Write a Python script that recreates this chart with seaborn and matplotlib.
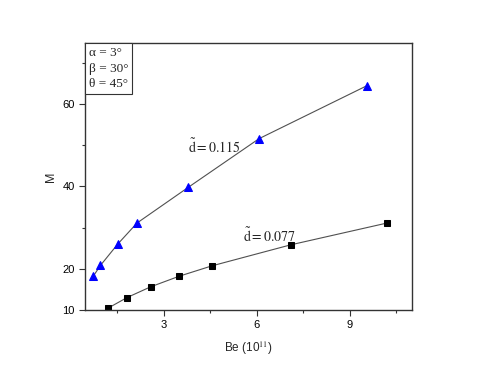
import numpy as np
import pandas as pd
import matplotlib
matplotlib.use('Agg')
import matplotlib.pyplot as plt
from matplotlib.ticker import FixedLocator
from matplotlib.offsetbox import AnchoredText
import seaborn as sns

# Data
be_077 = [1.19, 1.81, 2.57, 3.50, 4.55, 7.09, 10.20]
m_077 = [10.4, 13.0, 15.6, 18.2, 20.7, 25.8, 31.1]
be_115 = [0.72, 0.95, 1.51, 2.13, 3.79, 6.07, 9.56]
m_115 = [18.2, 20.8, 26.0, 31.1, 39.8, 51.6, 64.5]
params = ['α = 3°', 'β = 30°', 'θ = 45°']

sns.set_style('ticks')
plt.rcParams['font.family'] = ['Liberation Sans', 'DejaVu Sans']
plt.rcParams['mathtext.fontset'] = 'stix'

fig = plt.figure(figsize=(4.8, 3.72), dpi=100)
ax = fig.add_axes([0.177, 0.167, 0.681, 0.717])

df1 = pd.DataFrame({'Be': be_077, 'M': m_077})
df2 = pd.DataFrame({'Be': be_115, 'M': m_115})

sns.lineplot(data=df1, x='Be', y='M', ax=ax, sort=False, color='#505050', lw=0.8,
             marker='s', markersize=4.5, markerfacecolor='black', markeredgecolor='black')
sns.lineplot(data=df2, x='Be', y='M', ax=ax, sort=False, color='#505050', lw=0.8,
             marker='^', markersize=6, markerfacecolor='#0000ff', markeredgecolor='#0000ff')

ax.set_xlim(0.45, 11.0)
ax.set_ylim(10, 74.8)
ax.xaxis.set_major_locator(FixedLocator([3, 6, 9]))
ax.xaxis.set_minor_locator(FixedLocator([1.5, 4.5, 7.5, 10.5]))
ax.yaxis.set_major_locator(FixedLocator([10, 20, 40, 60]))
ax.yaxis.set_minor_locator(FixedLocator([30, 50, 70]))
ax.tick_params(which='both', direction='out', labelsize=8, width=0.8, colors='#333333',
               labelcolor='black')
ax.tick_params(which='major', length=4)
ax.tick_params(which='minor', length=2.5)
for s in ax.spines.values():
    s.set_visible(True)
    s.set_linewidth(1.0)
    s.set_color('#333333')

ax.set_xlabel('Be (10$^{11}$)', fontsize=8.5, labelpad=6.5)
ax.set_ylabel('M', fontsize=9, labelpad=4)

ax.text(3.76, 48.0, r'$\tilde{\mathrm{d}} = 0.115$', fontsize=10, va='baseline')
ax.text(5.56, 26.5, r'$\tilde{\mathrm{d}} = 0.077$', fontsize=10, va='baseline')

box = AnchoredText('\n'.join(params), loc='upper left', pad=0.3, borderpad=0, frameon=True,
                   prop=dict(size=9.5, family=['Liberation Serif', 'DejaVu Serif'],
                             linespacing=1.4))
box.patch.set_edgecolor('#333333')
box.patch.set_linewidth(0.8)
ax.add_artist(box)

fig.savefig('out.png', dpi=100)
